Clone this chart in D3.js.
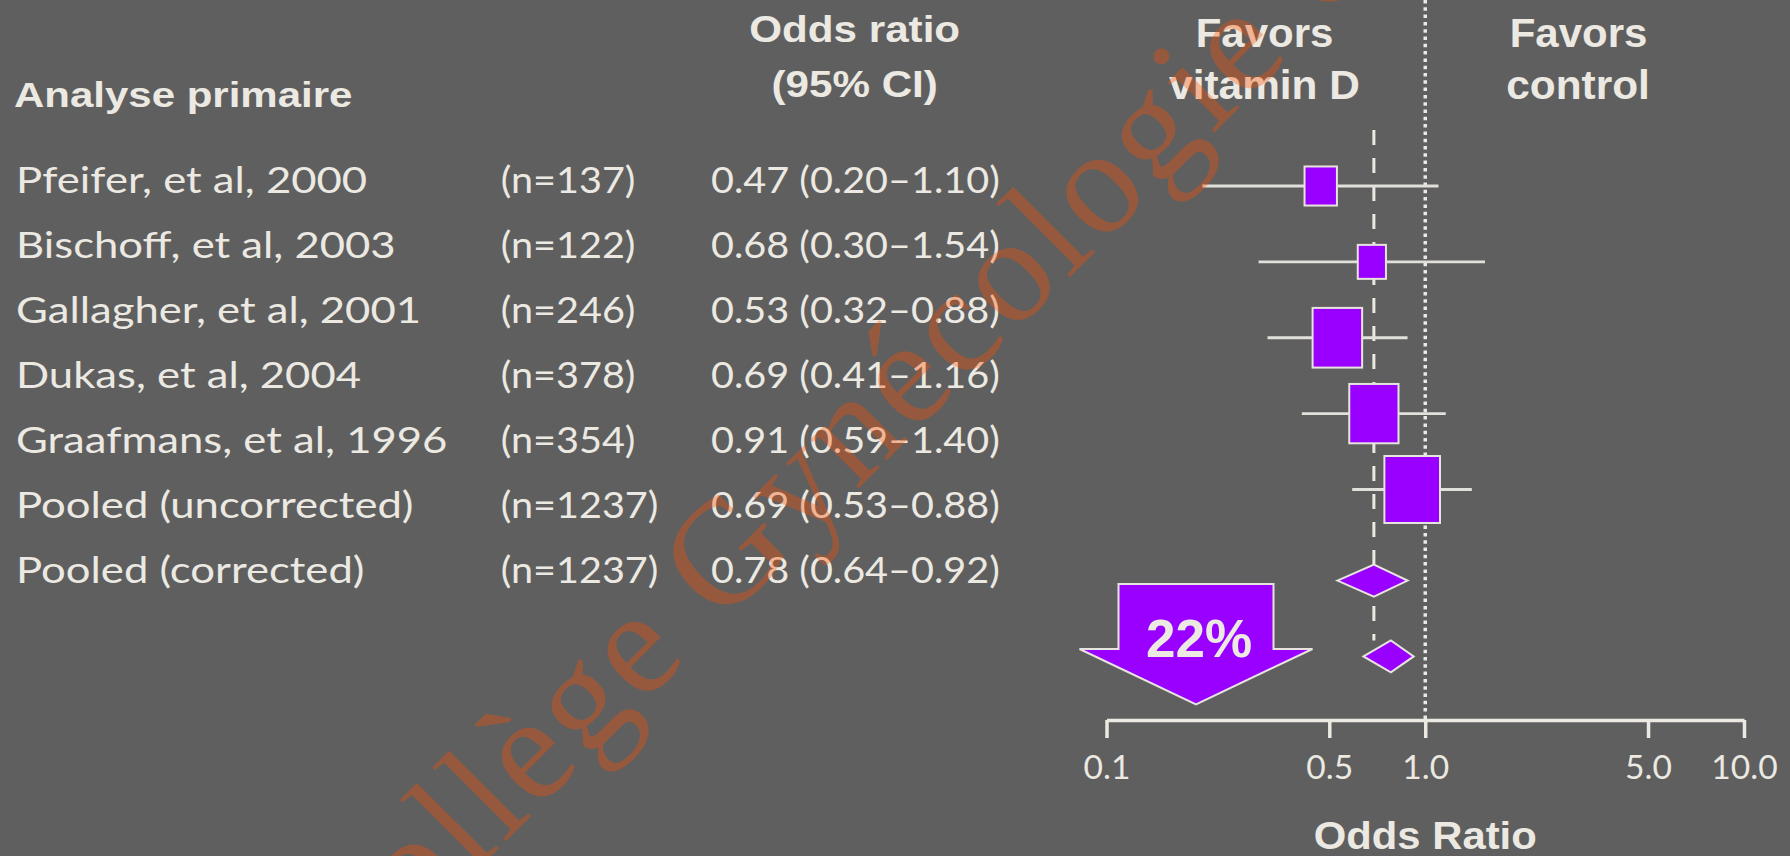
<!DOCTYPE html>
<html>
<head>
<meta charset="utf-8">
<script src="https://cdn.jsdelivr.net/npm/d3@7"></script>
<style>
  html, body { margin: 0; padding: 0; background: #5f5f5f; }
  svg { display: block; }
</style>
</head>
<body>
<svg id="chart" width="1790" height="856"></svg>
<script>
// ---- data -------------------------------------------------------------
const studies   = ["Pfeifer, et al, 2000", "Bischoff, et al, 2003", "Gallagher, et al, 2001",
                   "Dukas, et al, 2004", "Graafmans, et al, 1996",
                   "Pooled (uncorrected)", "Pooled (corrected)"];
const nPatients = [137, 122, 246, 378, 354, 1237, 1237];
const oddsRatio = [0.47, 0.68, 0.53, 0.69, 0.91, 0.69, 0.78];
const ciLow     = [0.20, 0.30, 0.32, 0.41, 0.59, 0.53, 0.64];
const ciHigh    = [1.10, 1.54, 0.88, 1.16, 1.40, 0.88, 0.92];
const weights   = [10.7, 8.1, 25.0, 24.7, 31.5];          // study weights (%)
const isPooled  = [false, false, false, false, false, true, true];
const tickValues = [0.1, 0.5, 1.0, 5.0, 10.0];

// ---- styles -------------------------------------------------------------
const BG = "#5f5f5f", INK = "#ebe9e2", PURPLE = "#9900ff";
const BOLD = "'Liberation Sans', Arial, sans-serif";
const BODY = "Lato, 'Open Sans', sans-serif";

const svg = d3.select("#chart");
svg.append("rect").attr("width", 1790).attr("height", 856).attr("fill", BG);

// ---- scales -------------------------------------------------------------
const x = d3.scaleLog().domain([0.1, 10]).range([1106.5, 1744]);
const nStudies = isPooled.filter(p => !p).length;
const markRow = d3.scaleLinear().domain([0, nStudies - 1]).range([186, 489.5]);
const rowY = i => markRow(i < nStudies ? i : i + 0.2);       // small gap before pooled rows
const textRow = d3.scaleLinear().domain([0, 1]).range([193.3, 258.3]);
const boxH = d3.scaleSqrt().domain([0, d3.max(weights)]).range([0, 67]);
const f2 = d3.format(".2f");

// ---- helpers -------------------------------------------------------------
function label(txt, px, py, size, anchor, sx, family, weight) {
  return svg.append("text")
    .attr("transform", `translate(${px},${py}) scale(${sx},1)`)
    .attr("text-anchor", anchor)
    .attr("font-family", family)
    .attr("font-weight", weight)
    .attr("font-size", size)
    .attr("fill", INK)
    .text(txt);
}

// ---- headers -------------------------------------------------------------
label("Analyse primaire", 14, 106.7, 35, "start", 1.2, BOLD, "bold");
label("Odds ratio", 854.7, 41.5, 37, "middle", 1.14, BOLD, "bold");
label("(95% CI)", 854.7, 96.7, 37, "middle", 1.14, BOLD, "bold");
label("Favors", 1264.5, 46.7, 40, "middle", 1.05, BOLD, "bold");
label("vitamin D", 1264.5, 99.3, 40, "middle", 1.06, BOLD, "bold");
label("Favors", 1578.5, 46.7, 40, "middle", 1.05, BOLD, "bold");
label("control", 1578, 99.3, 40, "middle", 1.06, BOLD, "bold");

// ---- table text -------------------------------------------------------------
const table = svg.append("g").attr("font-family", BODY).attr("font-size", 37).attr("fill", INK);
const cols = [
  { x: 16,    sx: 1.18, text: i => studies[i] },
  { x: 500.7, sx: 1.07, text: i => `(n=${nPatients[i]})` },
  { x: 711,   sx: 1.07, text: i => `${f2(oddsRatio[i])} (${f2(ciLow[i])}\u2013${f2(ciHigh[i])})` }
];
cols.forEach(c => {
  table.selectAll(null).data(d3.range(studies.length)).join("text")
    .attr("transform", i => `translate(${c.x},${textRow(i)}) scale(${c.sx},1)`)
    .text(c.text);
});

// ---- reference lines -------------------------------------------------------------
const axisY = 720;
svg.append("line")
  .attr("x1", x(1)).attr("x2", x(1)).attr("y1", 0).attr("y2", axisY)
  .attr("stroke", INK).attr("stroke-width", 3.5).attr("stroke-dasharray", "3.5 3.8");

const pooledIdx = 5;
svg.append("line")
  .attr("x1", x(oddsRatio[pooledIdx])).attr("x2", x(oddsRatio[pooledIdx]))
  .attr("y1", 130).attr("y2", rowY(6) - 16)
  .attr("stroke", INK).attr("stroke-width", 3).attr("stroke-dasharray", "15 13");

// ---- confidence intervals and study boxes -------------------------------------
const idx = d3.range(studies.length);
const studyIdx = idx.filter(i => !isPooled[i]);
const poolIdx = idx.filter(i => isPooled[i]);

svg.append("g").selectAll("line").data(studyIdx).join("line")
  .attr("x1", i => x(ciLow[i])).attr("x2", i => x(ciHigh[i]))
  .attr("y1", i => rowY(i)).attr("y2", i => rowY(i))
  .attr("stroke", "#e2e0da").attr("stroke-width", 2.8);

svg.append("g").selectAll("rect").data(studyIdx).join("rect")
  .attr("x", i => x(oddsRatio[i]) - boxH(weights[i]) * 0.83 / 2)
  .attr("y", i => rowY(i) - boxH(weights[i]) / 2)
  .attr("width", i => boxH(weights[i]) * 0.83)
  .attr("height", i => boxH(weights[i]))
  .attr("fill", PURPLE).attr("stroke", "#e6e4dc").attr("stroke-width", 2);

// ---- pooled diamonds -------------------------------------------------------------
svg.append("g").selectAll("path").data(poolIdx).join("path")
  .attr("d", i => {
    const y = rowY(i), h = 16;
    return `M${x(ciLow[i])},${y} L${x(oddsRatio[i])},${y - h} L${x(ciHigh[i])},${y} L${x(oddsRatio[i])},${y + h} Z`;
  })
  .attr("fill", PURPLE).attr("stroke", "#e6e4dc").attr("stroke-width", 2);

// ---- reduction arrow -------------------------------------------------------------
const ax = 1196, aTop = 584, aShoulder = 649, aTip = 704.3, shaftHalf = 77.5, headHalf = 116.5;
svg.append("path")
  .attr("d", `M${ax - shaftHalf},${aTop} H${ax + shaftHalf} V${aShoulder} H${ax + headHalf}
              L${ax},${aTip} L${ax - headHalf},${aShoulder} H${ax - shaftHalf} Z`)
  .attr("fill", PURPLE).attr("stroke", "#e6e4dc").attr("stroke-width", 2);
label(d3.format(".0%")(1 - oddsRatio[6]), ax + 3, 657.3, 53, "middle", 1.0, BOLD, "bold");

// ---- axis -------------------------------------------------------------
const axis = d3.axisBottom(x).tickValues(tickValues).tickFormat(d3.format(".1f"))
  .tickSize(18).tickSizeOuter(0);
const gAxis = svg.append("g").attr("transform", `translate(0,${axisY})`).call(axis);
gAxis.select(".domain").attr("stroke", INK).attr("stroke-width", 3.5);
gAxis.selectAll(".tick line").attr("stroke", INK).attr("stroke-width", 3.5);
gAxis.selectAll(".tick text")
  .attr("y", null).attr("dy", null)
  .attr("transform", "translate(0,59) scale(1.05,1)")
  .attr("fill", INK).attr("font-family", BODY).attr("font-size", 32);
label("Odds Ratio", x(1), 849, 38, "middle", 1.1, BOLD, "bold");

// ---- watermark -------------------------------------------------------------
svg.append("text")
  .attr("transform", "translate(342,1005) rotate(-45)")
  .attr("font-family", "'Liberation Serif', 'Times New Roman', serif")
  .attr("font-size", 150)
  .attr("letter-spacing", 4)
  .attr("fill", "rgb(255,80,0)")
  .attr("opacity", 0.34)
  .text("Collège Gynécologie C");
</script>
</body>
</html>
